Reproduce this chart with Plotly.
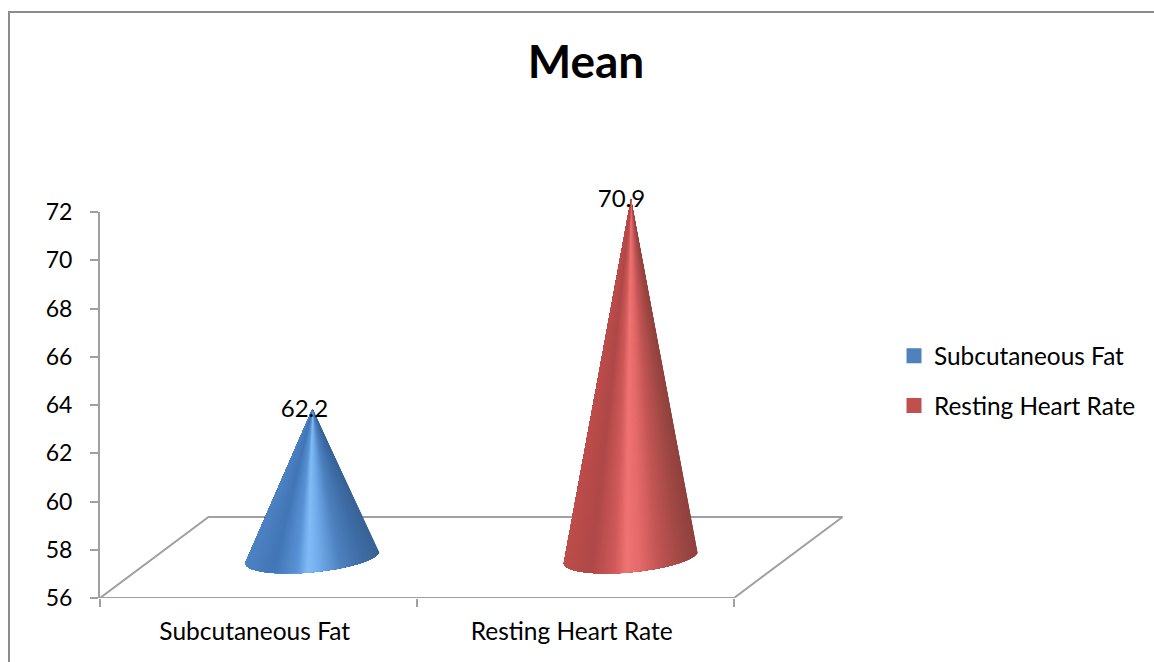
import math
import plotly.graph_objects as go

# Data
categories = ["Subcutaneous Fat", "Resting Heart Rate"]
values = [62.2, 70.9]
y_ticks = [56, 58, 60, 62, 64, 66, 68, 70, 72]
swatch_colors = ["#4f81bd", "#c0504d"]
# shading stops across the cone face: (u from -1 left to +1 right, colour)
shade_blue = [(-1, (78, 130, 195)), (-0.55, (66, 118, 182)), (-0.2, (88, 145, 212)), (-0.02, (130, 188, 248)),
              (0.18, (110, 167, 230)), (0.45, (78, 130, 192)), (0.8, (62, 108, 165)), (1, (58, 100, 150))]
shade_red = [(-1, (190, 78, 76)), (-0.55, (175, 72, 72)), (-0.2, (208, 90, 90)), (-0.02, (240, 115, 115)),
             (0.18, (228, 105, 105)), (0.45, (195, 85, 85)), (0.8, (158, 72, 68)), (1, (145, 66, 62))]
shades = [shade_blue, shade_red]

# Layout geometry
W, H = 1154, 662
L, R, T, B = 100, 734, 212, 598     # axis box
OUT_R, OUT_T = 860, 170             # outer drawing box, holds the 3-D floor and tips
X_RANGE = (-0.5, 1.5)
Y_RANGE = (56, 72)
PX_X = (R - L) / (X_RANGE[1] - X_RANGE[0])
PX_Y = (B - T) / (Y_RANGE[1] - Y_RANGE[0])
GREY = "#a0a0a0"
FONT = "Lato"

# 3-D projection offsets, in pixels
DEPTH_X, DEPTH_Y = 108.5, 81
CONE_DX, CONE_DY = 54, 39.5
CONE_STEP = 1.5
BASE_DY = 1.5
AXIS_A = (67, -5.5)
AXIS_B = (-3, 15.5)
N = 120
XY2 = dict(xaxis="x2", yaxis="y2")


def mix(stops, u):
    for (a, ca), (b, cb) in zip(stops, stops[1:]):
        if a <= u <= b:
            t = (u - a) / (b - a)
            return "rgb(%d,%d,%d)" % tuple(round(p + (q - p) * t) for p, q in zip(ca, cb))
    return "rgb(%d,%d,%d)" % stops[-1][1]


fig = go.Figure()

# Legend entries (on the axis subplot)
for cat, col in zip(categories, swatch_colors):
    fig.add_trace(go.Scatter(
        x=[None], y=[None], mode="markers", name=cat, legendgroup=cat,
        marker=dict(symbol="square", size=15, color=col)))

# Floor of the 3-D chart
x0, x1 = X_RANGE
y0 = Y_RANGE[0]
fig.add_trace(go.Scatter(
    x=[x0, x0 + DEPTH_X / PX_X, x1 + DEPTH_X / PX_X, x1, x0],
    y=[y0, y0 + DEPTH_Y / PX_Y, y0 + DEPTH_Y / PX_Y, y0, y0],
    mode="lines", line=dict(color=GREY, width=2),
    showlegend=False, hoverinfo="skip", **XY2))

# Cones: painted right to left, each layer covers the rest of the face
for i, val in enumerate(values):
    cx = i + (CONE_DX + i * CONE_STEP) / PX_X
    apex_y = val + CONE_DY / PX_Y
    base_y = y0 + (CONE_DY + BASE_DY) / PX_Y
    for k in range(N):
        xs, ys = [cx], [apex_y]
        for j in range(k, N + 1):
            t = math.pi * j / N
            xs.append(cx + (math.cos(t) * AXIS_A[0] + math.sin(t) * AXIS_B[0]) / PX_X)
            ys.append(base_y - (math.cos(t) * AXIS_A[1] + math.sin(t) * AXIS_B[1]) / PX_Y)
        xs.append(cx)
        ys.append(apex_y)
        col = mix(shades[i], math.cos(math.pi * (k + 0.5) / N))
        fig.add_trace(go.Scatter(
            x=xs, y=ys, mode="lines", fill="toself", fillcolor=col,
            line=dict(width=0), showlegend=False, hoverinfo="skip", **XY2))

# Value labels
fig.add_trace(go.Scatter(
    x=[i + (CONE_DX - 8) / PX_X for i in range(len(values))],
    y=[v + (CONE_DY - 2) / PX_Y for v in values],
    mode="text", text=[f"{v:.1f}" for v in values],
    textposition="middle center",
    textfont=dict(family=FONT, size=24, color="#000000"),
    showlegend=False, hoverinfo="skip", **XY2))

span_x = OUT_R - L
span_y = B - OUT_T
fig.update_layout(
    width=W, height=H, autosize=False,
    margin=dict(l=L, r=W - OUT_R, t=OUT_T, b=H - B, pad=0),
    paper_bgcolor="white", plot_bgcolor="rgba(0,0,0,0)",
    font=dict(family=FONT, color="#000000", size=23),
    title=dict(text="<b>Mean</b>", x=586 / W, xanchor="center", y=1 - 62 / H, yanchor="middle",
               font=dict(family=FONT, size=46, color="#000000")),
    legend=dict(x=(894 - L) / span_x, xanchor="left", y=(B - 381) / span_y, yanchor="middle",
                font=dict(family=FONT, size=24.4), tracegroupgap=15, bgcolor="rgba(0,0,0,0)",
                itemwidth=30, traceorder="grouped"),
    xaxis=dict(domain=[0, (R - L) / span_x], range=list(X_RANGE), showgrid=False, zeroline=False,
               tickmode="array", tickvals=[i - 0.012 for i in range(len(categories))], ticktext=categories,
               ticks="outside", ticklen=8, tickcolor="rgba(0,0,0,0)", ticklabelstandoff=4,
               tickfont=dict(family=FONT, size=24.5),
               minor=dict(tickmode="array", tickvals=[-0.5, 0.5, 1.5], ticks="outside", ticklen=8,
                          tickcolor=GREY, tickwidth=2, showgrid=False),
               showline=False),
    yaxis=dict(domain=[0, (B - T) / span_y], range=list(Y_RANGE), tickmode="array", tickvals=y_ticks,
               showgrid=False, zeroline=False,
               showline=True, linecolor=GREY, linewidth=2, ticks="outside", ticklen=8,
               tickcolor=GREY, tickwidth=2, ticklabelstandoff=13),
    xaxis2=dict(domain=[0, 1], range=[X_RANGE[0], X_RANGE[0] + span_x / PX_X],
                visible=False, anchor="y2"),
    yaxis2=dict(domain=[0, 1], range=[Y_RANGE[0], Y_RANGE[0] + span_y / PX_Y],
                visible=False, anchor="x2"),
    shapes=[dict(type="path", xref="paper", yref="paper",
                 path="M %f,%f L %f,%f L %f,%f" % ((9 - L) / span_x, (B - H) / span_y,
                                                   (9 - L) / span_x, (B - 12) / span_y,
                                                   (W - L) / span_x, (B - 12) / span_y),
                 line=dict(color="#8c8c8c", width=2))],
)

fig.write_html("out.html", config={"displayModeBar": False},
               post_script="document.body.style.margin='0';document.documentElement.style.overflow='hidden';")
